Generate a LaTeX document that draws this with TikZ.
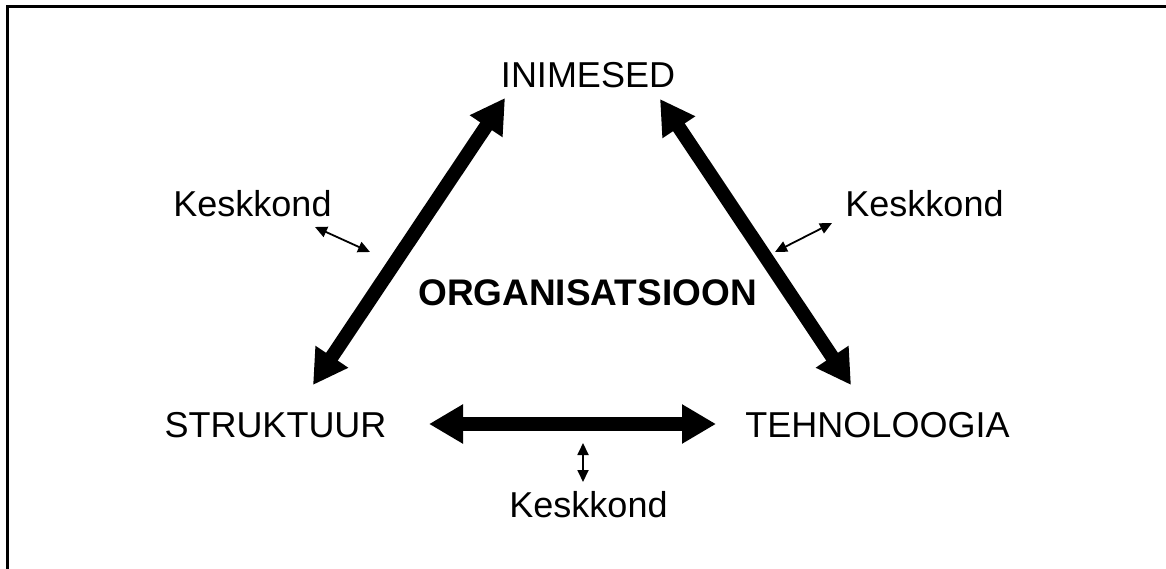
\documentclass[tikz,border=0pt]{standalone}
\usepackage{fontspec}
\setmainfont{Liberation Sans}
\usetikzlibrary{arrows.meta}
\begin{document}
\begin{tikzpicture}[x=1pt,y=-1pt,
  lbl/.style={inner sep=0pt,anchor=base,font=\fontsize{36}{40}\selectfont},
  bold/.style={lbl,font=\fontsize{37}{40}\selectfont\bfseries},
  big/.style={line width=14pt,{Triangle[length=34pt,width=37pt]}-{Triangle[length=34pt,width=37pt]}},
  small/.style={line width=1.8pt,{Triangle[length=12pt,width=11pt]}-{Triangle[length=12pt,width=11pt]}}]
\useasboundingbox (0,0) rectangle (1166,569);
\draw[line width=3pt] (7,569) -- (7,7) -- (1166,7);

\node[lbl] (inim) at (588,88) {INIMESED};
\node[lbl] (strk) at (275.5,437) {STRUKTUUR};
\node[lbl] (tehn) at (877.5,437) {TEHNOLOOGIA};
\node[lbl] (kl) at (252.5,217) {Keskkond};
\node[lbl] (kr) at (924.5,217) {Keskkond};
\node[lbl] (kb) at (588.5,517) {Keskkond};
\node[bold] (org) at (587.5,305) {ORGANISATSIOON};

\coordinate (a1) at (313,385);
\coordinate (a2) at (505,98);
\coordinate (b1) at (660,99);
\coordinate (b2) at (851,385);
\coordinate (c1) at (429,424);
\coordinate (c2) at (716,424);
\draw[big] (a1) -- (a2);
\draw[big] (b1) -- (b2);
\draw[big] (c1) -- (c2);

\coordinate (l1) at (315,227);
\coordinate (l2) at (370,252);
\coordinate (r1) at (775,252);
\coordinate (r2) at (832,223);
\coordinate (m1) at (583,443);
\coordinate (m2) at (583,482);
\draw[small] (l1) -- (l2);
\draw[small] (r1) -- (r2);
\draw[small] (m1) -- (m2);
\end{tikzpicture}
\end{document}
